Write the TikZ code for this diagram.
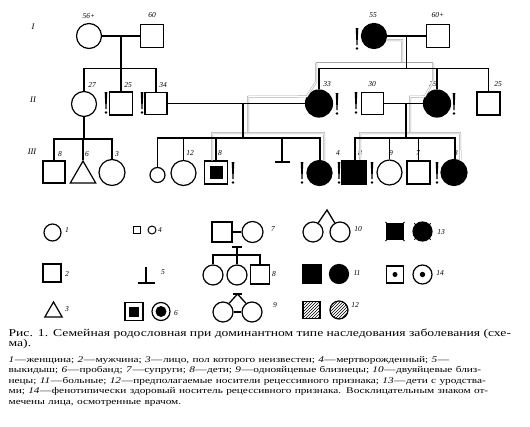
\documentclass[tikz,border=0pt]{standalone}
\usepackage{fontspec}
\setmainfont{Liberation Serif}
\newfontfamily\capfont[FakeStretch=1.3]{Liberation Serif}
\newfontfamily\keyfont[FakeStretch=1.3]{Liberation Serif}
\usetikzlibrary{shapes.geometric,patterns,calc}

\begin{document}
\begin{tikzpicture}[
  x=1pt, y=-1pt, line width=1.2pt,
  male/.style={draw, rectangle, inner sep=0pt, minimum size=#1pt},
  male/.default=23,
  female/.style={draw, circle, inner sep=0pt, minimum size=#1pt},
  female/.default=25,
  sick/.style={fill=black},
  undef/.style={draw, regular polygon, regular polygon sides=3, inner sep=0pt,
                minimum size=#1pt},
  lbl/.style={font=\fontsize{7.5}{7.5}\selectfont\itshape, inner sep=0pt},
  gen/.style={font=\fontsize{8.5}{8.5}\selectfont\itshape, inner sep=0pt},
  kin/.style={line width=1.3pt},
  trace/.style={draw=black!35, double=white, line width=0.5pt, double distance=1pt},
  hatch/.style={pattern=north east lines},
]
\useasboundingbox (0,0) rectangle (530,426);
% Row baselines of the pedigree.
\def\yI{36}
\def\yII{103.5}
\def\yIII{172.5}
\def\sibI{68.5}
\def\sibII{138}
\def\capw{517pt}

% Exclamation mark: seen by the doctor.
\newcommand{\excl}[2]{%
  \fill (#1-1.3,#2-11) -- (#1+1.3,#2-11) -- (#1+0.5,#2+6) -- (#1-0.5,#2+6) -- cycle;
  \fill (#1,#2+9.5) circle (1.3);
}
\newcommand{\keyno}[1]{\textit{#1}\kern0.5pt—\kern0.5pt}

% ---------------- generation labels ----------------
\node[gen] (gI)   at (33,27)  {I};
\node[gen] (gII)  at (33,100) {II};
\node[gen] (gIII) at (32,152) {III};

% ---------------- generation I ----------------
\node[female]       (g1a) at (89,\yI)  {};
\node[male]         (g1b) at (152,\yI) {};
\node[female, sick] (g1c) at (374,\yI) {};
\node[male]         (g1d) at (438,\yI) {};
\node[lbl] at (89,16)  {56+};
\node[lbl] at (152,15) {60};
\node[lbl] at (373,15) {55};
\node[lbl] at (438,15) {60+};
\excl{357}{39}

% ---------------- generation II ----------------
\node[female]                       (g2a) at (84,104)      {};
\node[male]                         (g2b) at (121,\yII)    {};
\node[male=22]                      (g2c) at (156,\yII)    {};
\node[female=27, sick]              (g2d) at (319,\yII)    {};
\node[male=22]                      (g2e) at (372.5,\yII)  {};
\node[female=27, sick]              (g2f) at (437,\yII)    {};
\node[male]                         (g2g) at (488.5,\yII)  {};
\node[lbl] at (92,85)  {27};
\node[lbl] at (128,85) {25};
\node[lbl] at (163,85) {34};
\node[lbl] at (327,84) {33};
\node[lbl] at (372,84) {30};
\node[lbl] at (433,84) {29};
\node[lbl] at (498,84) {25};
\excl{106}{103}
\excl{142}{103}
\excl{337}{104}
\excl{356}{103}
\excl{454}{104}

% ---------------- generation III ----------------
\node[male=22]          (g3a) at (54,172)       {};
\node[undef=29.4]       (g3b) at (83,175.7)     {};
\node[female=26]        (g3c) at (112,\yIII)    {};
\node[female=15]        (g3d) at (157.5,175)    {};
\node[female]           (g3e) at (183.5,173)    {};
\node[male]             (g3f) at (216,\yIII)    {};
\fill (g3f.center) +(-6.5,-6.5) rectangle +(6.5,6.5);
\coordinate             (g3g) at (282,162);
\node[female, sick]     (g3h) at (319.5,173)    {};
\node[male=24, sick]    (g3i) at (354,\yIII)    {};
\node[female]           (g3j) at (389.5,\yIII)  {};
\node[male]             (g3k) at (418.5,\yIII)  {};
\node[female=26, sick]  (g3l) at (454,\yIII)    {};
\node[lbl] at (60,154)  {8};
\node[lbl] at (87,154)  {6};
\node[lbl] at (117,154) {3};
\node[lbl] at (190,153) {12};
\node[lbl] at (220,153) {8};
\node[lbl] at (338,153) {4};
\node[lbl] at (360,153) {8};
\node[lbl] at (391,153) {9};
\node[lbl] at (418,153) {7};
\node[lbl] at (456,153) {3};
\excl{233}{173}
\excl{302}{173}
\excl{339}{173}
\excl{372}{173}
\excl{437}{173}

% ---------------- trace of the trait (grey) ----------------
\draw[trace] (g1c.-18) -- (402,40) -- (402,63);
\draw[trace] (316,63) -- (433,63);
\draw[trace] (316,63) -- (316,82) -- (g2d.150) -- (248,96.75) -- (248,133);
\draw[trace] (433,63) -- (433,82) -- (g2f.150) -- (410,96.75) -- (410,133);
\draw[trace] ([xshift=-4pt]g3f.north) -- (212,133) -- (324,133) -- (g3h.69);
\draw[trace] ([xshift=6pt]g3i.north) -- (360,133) -- (460,133) -- (g3l.62);

% ---------------- lines of descent ----------------
\coordinate (mA) at ($(g1a.east)!.5!(g1b.west)$);
\coordinate (mB) at ($(g1c.east)!.5!(g1d.west)$);
\coordinate (mC) at (243,\yII);
\coordinate (mD) at (406,\yII);
\draw[kin] (g1a) -- (g1b);
\draw[kin] (g1c) -- (g1d);
\draw[kin] (g2c) -- (g2d);
\draw[kin] (g2e) -- (g2f);
% I: left couple
\draw[kin] (mA) -- (mA |- 0,\sibI);
\draw[kin] (g2a.north) -- (g2a.north |- 0,\sibI) -- (g2c.north |- 0,\sibI) -- (g2c.north);
\draw[kin] (g2b.north) -- (g2b.north |- 0,\sibI);
% I: right couple
\draw[kin] (mB) -- (mB |- 0,\sibI);
\draw[kin] (g2d.north) -- (g2d.north |- 0,\sibI) -- (g2g.north |- 0,\sibI) -- (g2g.north);
\draw[kin] (g2f.north) -- (g2f.north |- 0,\sibI);
% II: mother 27
\draw[kin] (g2a.south) -- (g2a.south |- 0,139);
\draw[kin] (g3a.north) -- (g3a.north |- 0,139) -- (g3c.north |- 0,139) -- (g3c.north);
\draw[kin] (g3b.corner 1) -- (g3b.corner 1 |- 0,139);
% II: couple 34 + 33
\draw[kin] (mC) -- (mC |- 0,\sibII);
\draw[kin] (g3d.north) -- (g3d.north |- 0,\sibII) -- (320,\sibII) -- ([xshift=0.5pt]g3h.north);
\draw[kin] (g3e.north) -- (g3e.north |- 0,\sibII);
\draw[kin] (g3f.north) -- (g3f.north |- 0,\sibII);
\draw[kin] (g3g) -- (g3g |- 0,\sibII);
\draw[kin] ([xshift=-7.5pt]g3g) -- ([xshift=7.5pt]g3g);
% II: couple 30 + 29
\draw[kin] (mD) -- (mD |- 0,\sibII);
\draw[kin] ([xshift=1pt]g3i.north) -- (355,\sibII) -- (455,\sibII) -- ([xshift=1pt]g3l.north);
\draw[kin] (g3j.north) -- (g3j.north |- 0,\sibII);
\draw[kin] (g3k.north) -- (g3k.north |- 0,\sibII);

% ---------------- key ----------------
% row 1
\node[female=17]   (k1)   at (52.5,232.5) {};
\node[lbl] at (67,230) {1};
\node[male=7, line width=1pt]   (k4a) at (136.5,230) {};
\node[female=8, line width=1pt] (k4b) at (152,230)   {};
\node[lbl] at (160,230) {4};
\node[male=20]     (k7a)  at (222,232)   {};
\node[female=21]   (k7b)  at (252.5,232) {};
\draw[kin] (k7a) -- (k7b);
\node[lbl] at (273,229) {7};
\node[female=20]   (k10a) at (313,232) {};
\node[female=20]   (k10b) at (340,232) {};
\coordinate        (k10t) at (327,210);
\draw[kin] (k10a.60) -- (k10t) -- (k10b.120);
\node[lbl] at (358,229) {10};
\node[male=16, sick]   (k13a) at (395,231.5)   {};
\node[female=19, sick] (k13b) at (422.5,231.5) {};
\foreach \a in {45,135,225,315} {
  \draw[line width=0.9pt] (k13a.center) ++(\a:10) -- ++(\a:3.5);
  \draw[line width=0.9pt] (k13b.center) ++(\a:8.5) -- ++(\a:3);
}
\node[lbl] at (441,232) {13};
% row 2
\node[male=18]     (k2)   at (52,273) {};
\node[lbl] at (67,274) {2};
\coordinate (k5top) at (146,267);
\coordinate (k5)    at (146,283);
\draw[kin] (k5top) -- (k5);
\draw[kin] ([xshift=-8pt]k5) -- ([xshift=8.5pt]k5);
\node[lbl] at (163,272) {5};
\coordinate        (k8t)  at (237,247);
\node[female=20]   (k8a)  at (213,275)   {};
\node[female=20]   (k8b)  at (237,275)   {};
\node[male=19]     (k8c)  at (260,274.5) {};
\draw[kin] ([xshift=-5pt]k8t) -- ([xshift=5pt]k8t);
\draw[kin] (k8t) -- (k8b.north);
\draw[kin] (k8a.north) -- (k8a.north |- 0,255) -- (k8c.north |- 0,255) -- (k8c.north);
\node[lbl] at (274,274) {8};
\node[male=18, sick]   (k11a) at (312,274) {};
\node[female=19, sick] (k11b) at (339,274) {};
\node[lbl] at (357,273) {11};
\node[male=17]     (k14a) at (395,274.5)   {};
\fill (k14a) circle (2.5);
\node[female=19]   (k14b) at (422.5,274.5) {};
\fill (k14b) circle (2.7);
\node[lbl] at (440,273) {14};
% row 3
\node[undef=20]    (k3)   at (53.5,312) {};
\node[lbl] at (67,309) {3};
\node[male=18]     (k6a)  at (134,311.5) {};
\fill (k6a.center) +(-5,-5) rectangle +(5,5);
\node[female=18]   (k6b)  at (161,311.5) {};
\fill (k6b) circle (5.5);
\node[lbl] at (176,313) {6};
\coordinate        (k9t)  at (237.5,294);
\node[female=20]   (k9a)  at (223,312) {};
\node[female=20]   (k9b)  at (252,312) {};
\draw[kin] ([xshift=-4.5pt]k9t) -- ([xshift=4.5pt]k9t);
\draw[kin] (k9a.55) -- (k9t) -- (k9b.125);
\draw[kin] (k9a) -- (k9b);
\node[lbl] at (275,305) {9};
\node[male=17, hatch]   (k12a) at (311.5,310) {};
\node[female=18, hatch] (k12b) at (339,310)   {};
\node[lbl] at (355,305) {12};

% ---------------- caption ----------------
\node[anchor=north west, inner sep=0pt, text width=\capw] (cap) at (8,328.5) {%
  {\capfont\fontsize{10.5}{10}\selectfont
  \hbox to\capw{Рис. 1. Семейная родословная при доминантном типе наследования заболевания (схе-}
  ма).\par}
  \vspace{5pt}
  {\keyfont\fontsize{8.7}{10.5}\selectfont
  \hbox to\capw{\keyno{1}женщина; \keyno{2}мужчина; \keyno{3}лицо, пол которого неизвестен; \keyno{4}мертворожденный; \textit{5}\kern0.5pt—}
  \hbox to\capw{выкидыш; \keyno{6}пробанд; \keyno{7}супруги; \keyno{8}дети; \keyno{9}однояйцевые близнецы; \keyno{10}двуяйцевые близ-}
  \hbox to\capw{нецы; \keyno{11}больные; \keyno{12}предполагаемые носители рецессивного признака; \keyno{13}дети с уродства-}
  \hbox to\capw{ми; \keyno{14}фенотипически здоровый носитель рецессивного признака. Восклицательным знаком от-}
  мечены лица, осмотренные врачом.\par}
};
\end{tikzpicture}
\end{document}
